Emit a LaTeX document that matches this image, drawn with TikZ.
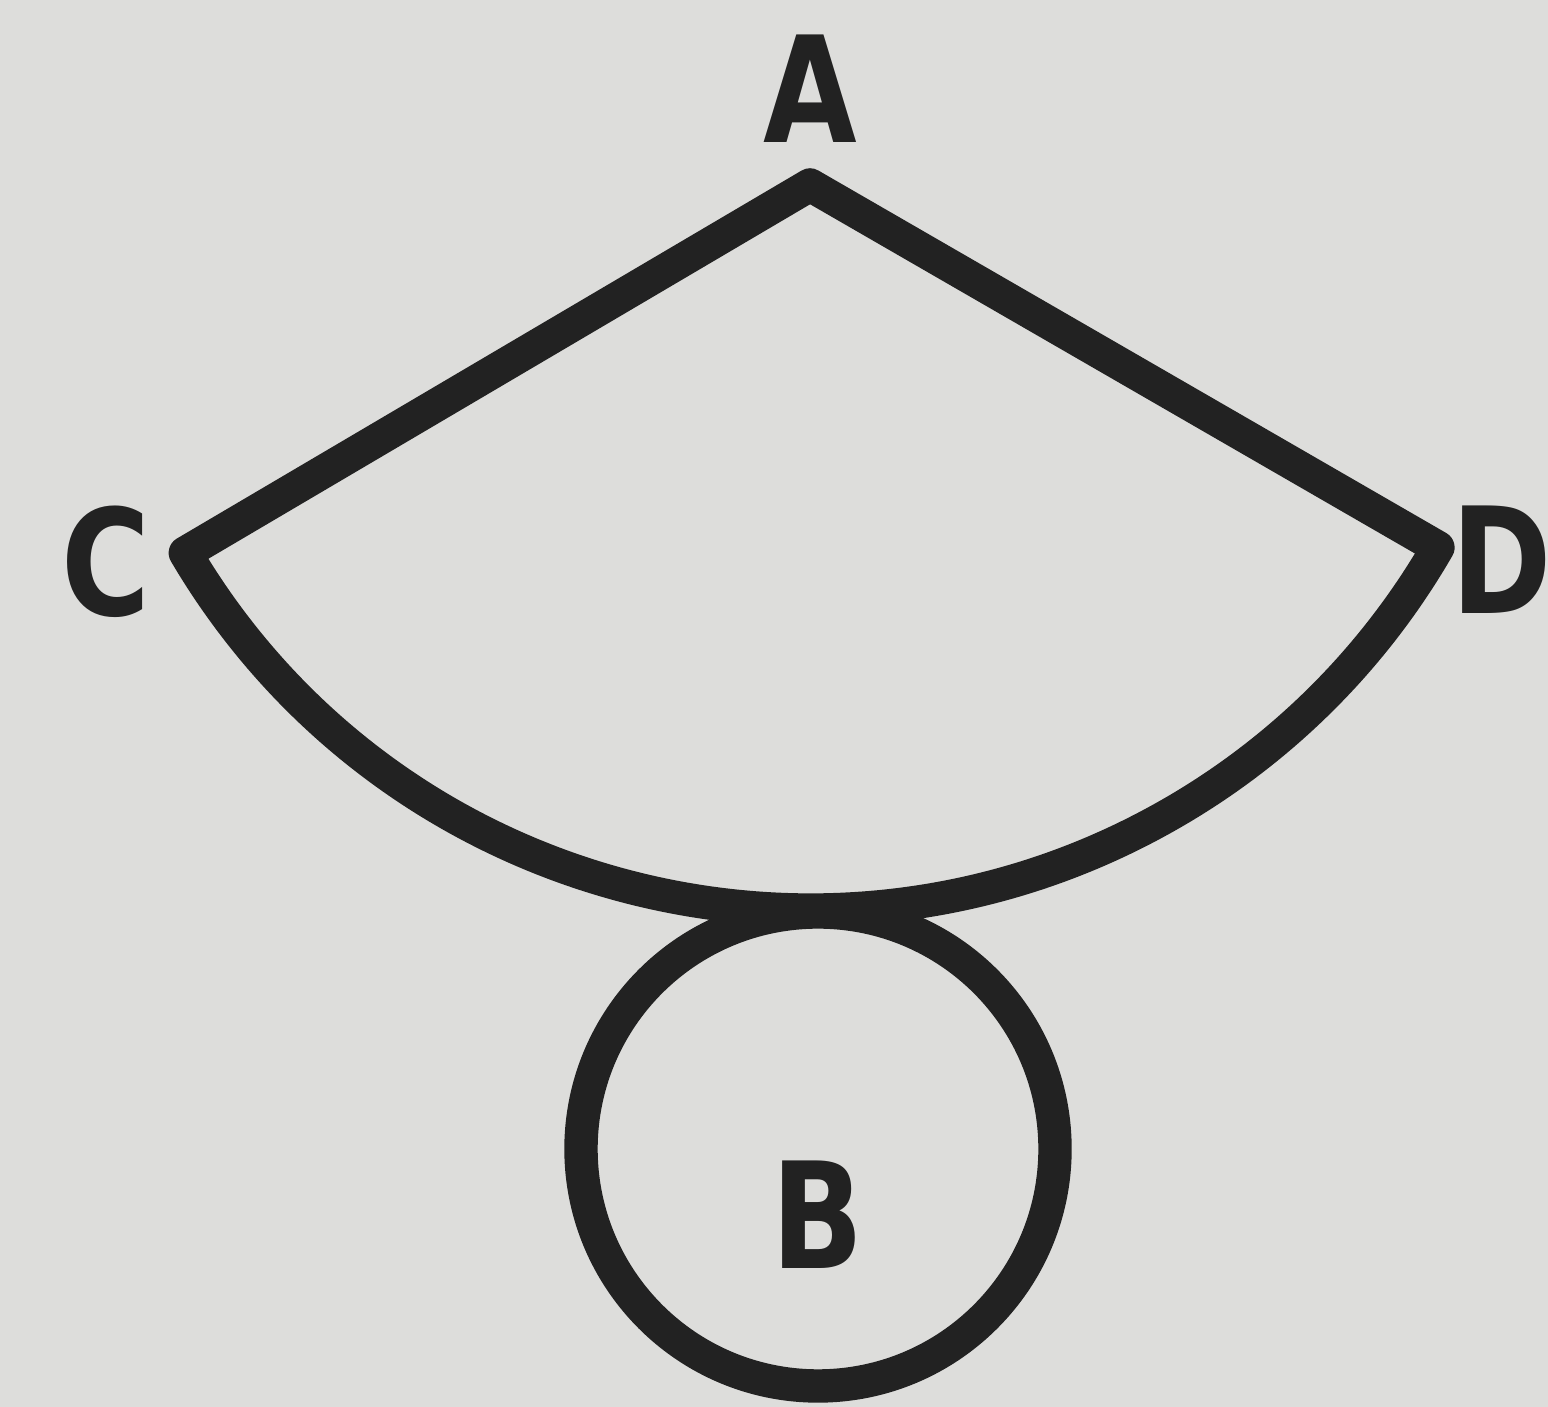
\documentclass[tikz,border=0pt]{standalone}
\usepackage{fontspec}
\setsansfont{DejaVu Sans}
\usetikzlibrary{calc}
\definecolor{paper}{RGB}{221,221,219}
\definecolor{ink}{RGB}{34,34,34}
\tikzset{
  inkline/.style={draw=ink, line width=9.5pt, line join=round},
  ptlabel/.style={font=\fontsize{42}{42}\selectfont\sffamily\bfseries, text=ink,
                  inner sep=0pt, xscale=0.82, transform shape},
}
\begin{document}
\begin{tikzpicture}

% Paper and frame
\fill[paper] (0,0) rectangle (15.48,14.07);
\useasboundingbox (0,0) rectangle (15.48,14.07);

% Sector with apex A
\coordinate (apex) at (8.10,12.22);
\coordinate (cleft) at ($(apex)+(210.5:7.25)$);
\draw[inkline] (apex) -- (cleft) arc[start angle=210.5, end angle=330, radius=7.25] -- cycle;

% Circle B
\node[inkline, circle, minimum size=4.74cm, inner sep=0pt] (ring) at (8.18,2.58) {};

% Labels
\node[ptlabel] (labA) at (8.10,13.18) {A};
\node[ptlabel] (labC) at (1.06,8.45) {C};
\node[ptlabel] (labD) at (15.02,8.47) {D};
\node[ptlabel] (labB) at (8.18,1.92) {B};

\end{tikzpicture}
\end{document}
